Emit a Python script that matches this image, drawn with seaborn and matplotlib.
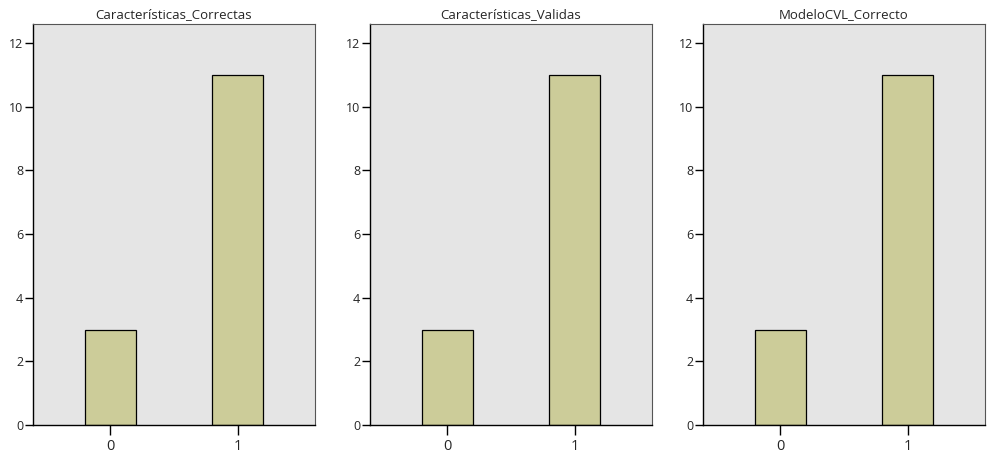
import matplotlib
matplotlib.use("Agg")
import matplotlib.pyplot as plt
import seaborn as sns
import pandas as pd

titles = ["Características_Correctas", "Características_Validas", "ModeloCVL_Correcto"]
categories = ["0", "1"]
counts_correctas = [3, 11]
counts_validas = [3, 11]
counts_modelo = [3, 11]
y_ticks = [0, 2, 4, 6, 8, 10, 12]

sns.set_theme(style="white")
plt.rcParams["font.family"] = ["Open Sans", "DejaVu Sans"]

fig = plt.figure(figsize=(9.88, 4.59), dpi=100)
W, H = 988, 459
lefts = [33, 370, 703]
bottom_px, top_px = 425, 24
panel_w = 282

series = [counts_correctas, counts_validas, counts_modelo]
for left, title, vals in zip(lefts, titles, series):
    ax = fig.add_axes([left / W, (H - bottom_px) / H, panel_w / W, (bottom_px - top_px) / H])
    df = pd.DataFrame({"valor": categories, "recuento": vals})
    sns.barplot(data=df, x="valor", y="recuento", ax=ax, color="#CCCC99",
                saturation=1, width=0.40, edgecolor="black", linewidth=0.9)
    ax.set_facecolor("#E5E5E5")
    ax.set_xlim(-0.61, 1.61)
    ax.set_ylim(0, 12.6)
    ax.set_yticks(y_ticks)
    ax.set_yticklabels([str(t) for t in y_ticks])
    ax.set_xlabel("")
    ax.set_ylabel("")
    ax.set_title(title, fontsize=9.5, pad=4)
    for side in ["top", "right"]:
        ax.spines[side].set_color("#555555")
        ax.spines[side].set_linewidth(0.8)
    for side in ["left", "bottom"]:
        ax.spines[side].set_color("black")
        ax.spines[side].set_linewidth(1.0)
    ax.tick_params(axis="y", direction="out", length=6, width=1, color="black",
                   labelsize=9, pad=1, left=True)
    ax.tick_params(axis="x", direction="out", length=7, width=1, color="black",
                   labelsize=10.5, pad=3, bottom=True)

fig.savefig("out.png", dpi=100)
